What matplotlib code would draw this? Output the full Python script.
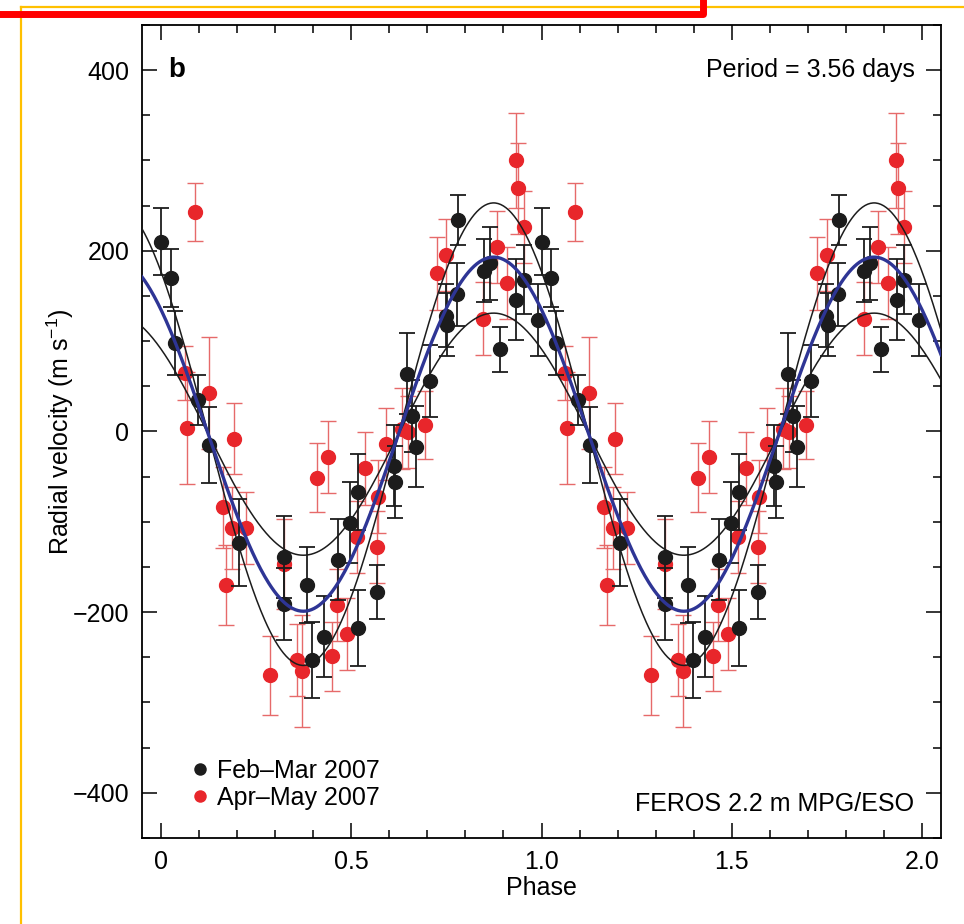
import numpy as np
import matplotlib.pyplot as plt
from matplotlib.lines import Line2D
from matplotlib.ticker import MultipleLocator

plt.rcParams.update({
    "font.family": ["Liberation Sans", "DejaVu Sans"],
    "font.size": 18,
    "mathtext.fontset": "custom",
    "mathtext.rm": "Liberation Sans",
    "mathtext.it": "Liberation Sans:italic",
})

# Feb-Mar 2007 (black)
feb_phase = [0.000, 0.026, 0.037, 0.097, 0.127, 0.205, 0.324, 0.324, 0.384, 0.398,
             0.429, 0.466, 0.497, 0.518, 0.518, 0.568, 0.611, 0.616, 0.647, 0.660,
             0.671, 0.708, 0.748, 0.752, 0.778, 0.781, 0.848, 0.864, 0.892, 0.934,
             0.953, 0.992]
feb_rv = [210, 170, 98, 35, -15, -123, -139, -191, -170, -253,
          -227, -142, -101, -67, -218, -178, -38, -56, 64, 17,
          -17, 56, 128, 118, 152, 234, 178, 186, 91, 146,
          168, 123]
feb_err = [37, 32, 35, 28, 42, 48, 45, 40, 42, 42,
           45, 45, 45, 42, 42, 30, 45, 40, 45, 40,
           45, 40, 35, 35, 35, 28, 35, 40, 25, 45,
           38, 40]

# Apr-May 2007 (red)
apr_phase = [0.063, 0.068, 0.089, 0.126, 0.163, 0.171, 0.187, 0.192, 0.224, 0.287,
             0.324, 0.358, 0.371, 0.410, 0.439, 0.450, 0.463, 0.489, 0.516, 0.537,
             0.568, 0.571, 0.592, 0.634, 0.650, 0.695, 0.724, 0.750, 0.847, 0.883,
             0.910, 0.932, 0.937, 0.953]
apr_rv = [65, 4, 243, 43, -84, -170, -107, -8, -107, -270,
          -147, -253, -265, -51, -28, -249, -192, -224, -117, -41,
          -128, -72, -14, 3, -1, 7, 175, 195, 125, 204,
          164, 300, 269, 226]
apr_err = [30, 62, 32, 62, 45, 44, 45, 39, 40, 44,
           50, 40, 62, 38, 40, 38, 40, 40, 40, 40,
           40, 40, 40, 45, 40, 38, 40, 40, 40, 40,
           40, 53, 50, 40]

# sinusoidal orbit fits: best fit and the two bounding curves
fit_gamma = -3
fit_phase_max = 0.874
fit_K = 196
bound_K = [256, 134]

black = "#1c1c1c"
red = "#e8262b"
red_err = "#e66a6a"
blue = "#2e3595"

fig = plt.figure(figsize=(9.64, 9.24), dpi=100)
ax = fig.add_axes([0.1473, 0.0931, 0.8289, 0.8799])

for shift in (0, 1):
    ax.errorbar(np.array(apr_phase) + shift, apr_rv, yerr=apr_err, fmt="o",
                color=red, ecolor=red_err, ms=10, elinewidth=1.0,
                capsize=5.5, capthick=1.0, zorder=2)
    ax.errorbar(np.array(feb_phase) + shift, feb_rv, yerr=feb_err, fmt="o",
                color=black, ecolor=black, ms=10, elinewidth=1.3,
                capsize=5.5, capthick=1.3, zorder=3)

ph = np.linspace(-0.05, 2.05, 600)
for K in bound_K:
    ax.plot(ph, fit_gamma + K * np.cos(2 * np.pi * (ph - fit_phase_max)),
            color=black, lw=1.1, zorder=4)
ax.plot(ph, fit_gamma + fit_K * np.cos(2 * np.pi * (ph - fit_phase_max)),
        color=blue, lw=2.4, zorder=5)

ax.set_xlim(-0.05, 2.05)
ax.set_ylim(-450, 450)
ax.set_xticks([0, 0.5, 1.0, 1.5, 2.0])
ax.set_xticklabels(["0", "0.5", "1.0", "1.5", "2.0"])
ax.xaxis.set_minor_locator(MultipleLocator(0.1))
ax.set_yticks([-400, -200, 0, 200, 400])
ax.yaxis.set_minor_locator(MultipleLocator(50))
ax.tick_params(which="both", direction="in", top=True, right=True, width=1.1)
ax.tick_params(which="major", length=11, pad=9)
ax.tick_params(which="minor", length=6)
for s in ax.spines.values():
    s.set_linewidth(1.3)

ax.set_xlabel("Phase", labelpad=1)
ax.set_ylabel(r"Radial velocity (m s$^{-1}$)", labelpad=-2)

ax.text(0.02, 400, "b", fontweight="bold", fontsize=20, ha="left", va="center")
ax.text(1.98, 400, "Period = 3.56 days", ha="right", va="center")
ax.text(1.98, -412, "FEROS 2.2 m MPG/ESO", ha="right", va="center")

handles = [Line2D([], [], marker="o", ls="none", color=black, ms=9, mew=0),
           Line2D([], [], marker="o", ls="none", color=red, ms=9, mew=0)]
ax.legend(handles, ["Feb\u2013Mar 2007", "Apr\u2013May 2007"], loc="lower left",
          bbox_to_anchor=(0.062, 0.035), frameon=False, handlelength=0.7,
          handletextpad=0.3, labelspacing=0.12, borderpad=0, borderaxespad=0)

# screenshot annotation lines around the panel
fig.add_artist(Line2D([21 / 964, 1.0], [1 - 7 / 924, 1 - 7 / 924], color="#ffc000", lw=1.6))
fig.add_artist(Line2D([21 / 964, 21 / 964], [1 - 7 / 924, 0], color="#ffc000", lw=1.6))
fig.add_artist(Line2D([0, 703 / 964, 703 / 964], [1 - 14 / 924, 1 - 14 / 924, 1.0],
                      color="#ff0000", lw=5, solid_joinstyle="round"))

fig.savefig("out.png", dpi=100)
